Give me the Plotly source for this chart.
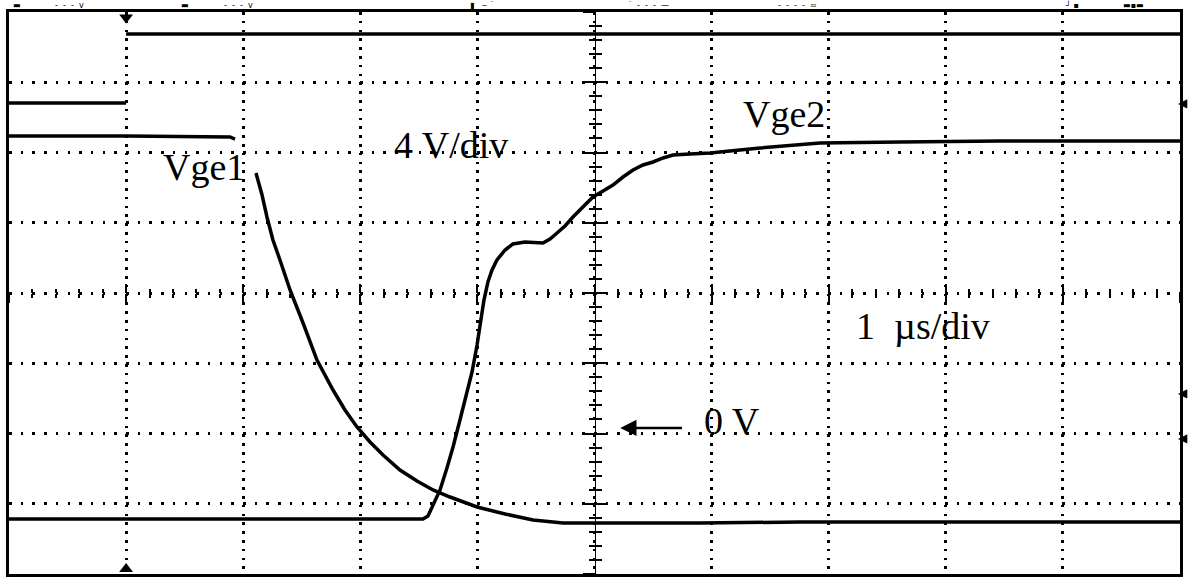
import plotly.graph_objects as go

# scope screen: 10 x 8 divisions, 1 us/div, 4 V/div
# time in us (trigger at 0), levels in screen divisions from the bottom

gate_t = [-1.0, 0.0, None, 0.0, 9.0]
gate_v = [6.705, 6.705, None, 7.687, 7.687]

vge1_t = [-1.0, 0.0, 0.887, 0.930, None, 1.109, 1.161, 1.203, 1.254, 1.314, 1.400, 1.511, 1.630,
          1.767, 1.869, 1.972, 2.083, 2.194, 2.339, 2.484, 2.621, 2.766, 2.997, 3.236, 3.475,
          3.731, 4.047, 4.901, 5.755, 6.609, 7.463, 8.317, 9.0]
vge1_v = [6.235, 6.235, 6.221, 6.192, None, 5.708, 5.395, 5.082, 4.754, 4.470, 4.043, 3.573, 3.046,
          2.619, 2.335, 2.093, 1.879, 1.694, 1.480, 1.324, 1.196, 1.096, 0.954, 0.854, 0.769,
          0.726, 0.726, 0.726, 0.740, 0.740, 0.740, 0.740, 0.740]

vge2_t = [-1.0, 0.0, 1.485, 2.535, 2.578, 2.621, 2.681, 2.740, 2.792, 2.851, 2.911, 2.954, 2.997,
          3.031, 3.056, 3.090, 3.125, 3.167, 3.236, 3.304, 3.406, 3.560, 3.620, 3.680, 3.748,
          3.816, 3.902, 3.987, 4.073, 4.158, 4.243, 4.329, 4.414, 4.500, 4.585, 4.670, 4.816,
          4.986, 5.413, 5.926, 6.609, 7.463, 8.317, 9.0]
vge2_v = [0.783, 0.783, 0.783, 0.783, 0.826, 0.982, 1.196, 1.509, 1.808, 2.192, 2.577, 2.875, 3.260,
          3.616, 3.900, 4.157, 4.327, 4.470, 4.612, 4.698, 4.726, 4.712, 4.769, 4.854, 4.954,
          5.082, 5.224, 5.367, 5.452, 5.537, 5.651, 5.751, 5.822, 5.865, 5.922, 5.964, 5.979,
          5.993, 6.064, 6.135, 6.149, 6.164, 6.164, 6.164]

# channel ground markers on the right edge
ground_levels = [6.705, 2.577, 1.936]

SERIF = "Liberation Serif, Times New Roman, serif"

fig = go.Figure()

# each trace sits on its own (identical) axis pair so the centre graticule axes get drawn
axis_pairs = [('x', 'y'), ('x2', 'y2'), ('x3', 'y3')]
for (t, v), (xa, ya) in zip([(gate_t, gate_v), (vge1_t, vge1_v), (vge2_t, vge2_v)], axis_pairs):
    fig.add_trace(go.Scatter(x=t, y=v, mode='lines', line=dict(color='black', width=3.5),
                             connectgaps=False, hoverinfo='skip', showlegend=False,
                             xaxis=xa, yaxis=ya))

# trigger position markers
fig.add_trace(go.Scatter(x=[0.0, 0.0], y=[7.92, 0.07], mode='markers',
                         marker=dict(symbol=['triangle-down', 'triangle-up'], size=12, color='black'),
                         cliponaxis=False, hoverinfo='skip', showlegend=False))

# ground markers sit outside the screen, so draw them as glyphs on the right edge
for lvl in ground_levels:
    fig.add_annotation(x=1.0, y=lvl, xref='paper', yref='y', xanchor='left', yanchor='middle',
                       xshift=-3, text="\u25c0", showarrow=False, borderpad=0,
                       font=dict(family="DejaVu Sans", size=12, color='black'))

labels = [
    ("Vge1", 0.30, 5.80),
    ("4 V/div", 2.27, 6.10),
    ("Vge2", 5.25, 6.55),
    ("1\u00a0\u00a0\u00b5s/div", 6.22, 3.53),
    ("0 V", 4.92, 2.18),
]
for txt, x, y in labels:
    fig.add_annotation(x=x, y=y, text=txt, showarrow=False, xanchor='left', yanchor='middle',
                       font=dict(family=SERIF, size=38, color='black'))

fig.add_annotation(x=4.22, y=2.08, ax=4.76, ay=2.08, xref='x', yref='y', axref='x', ayref='y',
                   text='', showarrow=True, arrowhead=2, arrowsize=1.3, arrowwidth=2.5,
                   arrowcolor='black')

# readout strip at the top of the screen (mostly cut off in the original capture)
header = [("\u25ac", 0.002), ("-  -  -  v", 0.038), ("\u25ac", 0.145), ("-  -  -  v", 0.182),
          ("\u25ae   \u2012 \u02d9", 0.392), ("\u02d9  -  -  -  \u2014", 0.527),
          ("-  -  -  -  \u2248", 0.655), ("\u2518 \u25aa", 0.900), ("\u25ac\u25aa\u25ac", 0.950)]
for txt, x in header:
    fig.add_annotation(x=x, y=1.0, xref='paper', yref='paper', yanchor='bottom', xanchor='left',
                       yshift=0, text=txt, showarrow=False,
                       font=dict(family="DejaVu Sans", size=8, color='black'))

grat = dict(showticklabels=False, showgrid=False, zeroline=False, tickcolor='black', tickwidth=2)

fig.update_layout(
    width=1189, height=577,
    margin=dict(l=9, r=9, t=12, b=3),
    paper_bgcolor='white', plot_bgcolor='white',
    xaxis=dict(range=[-1, 9], dtick=1, tick0=0, showticklabels=False, ticks='',
               showgrid=True, gridcolor='black', gridwidth=2.5, griddash='2.5px,6.3px',
               zeroline=False, showline=True, linecolor='black', linewidth=2.5, mirror=True),
    yaxis=dict(range=[0, 8], dtick=1, tick0=0, showticklabels=False, ticks='',
               showgrid=True, gridcolor='black', gridwidth=2.5, griddash='2.5px,9.2px',
               zeroline=False, showline=True, linecolor='black', linewidth=2.5, mirror=True),
    # centre graticule ticks
    xaxis2=dict(overlaying='x', anchor='free', position=0.5, range=[-1, 9], dtick=1, tick0=0,
                ticks='outside', ticklen=9, showline=False,
                minor=dict(dtick=0.2, ticks='outside', ticklen=4, tickwidth=2, tickcolor='black'),
                **grat),
    xaxis3=dict(overlaying='x', anchor='free', position=0.5, range=[-1, 9], dtick=1, tick0=0,
                ticks='inside', ticklen=9, showline=False,
                minor=dict(dtick=0.2, ticks='inside', ticklen=4, tickwidth=2, tickcolor='black'),
                **grat),
    yaxis2=dict(overlaying='y', anchor='free', position=0.5, range=[0, 8], dtick=1, tick0=0,
                ticks='outside', ticklen=12, showline=True, linecolor='black', linewidth=1,
                minor=dict(dtick=0.2, ticks='outside', ticklen=6, tickwidth=2, tickcolor='black'),
                **grat),
    yaxis3=dict(overlaying='y', anchor='free', position=0.5, range=[0, 8], dtick=1, tick0=0,
                ticks='inside', ticklen=12, showline=False,
                minor=dict(dtick=0.2, ticks='inside', ticklen=6, tickwidth=2, tickcolor='black'),
                **grat),
)

fig.write_html("out.html", config={'displayModeBar': False},
               post_script="document.body.style.margin = '0';")
